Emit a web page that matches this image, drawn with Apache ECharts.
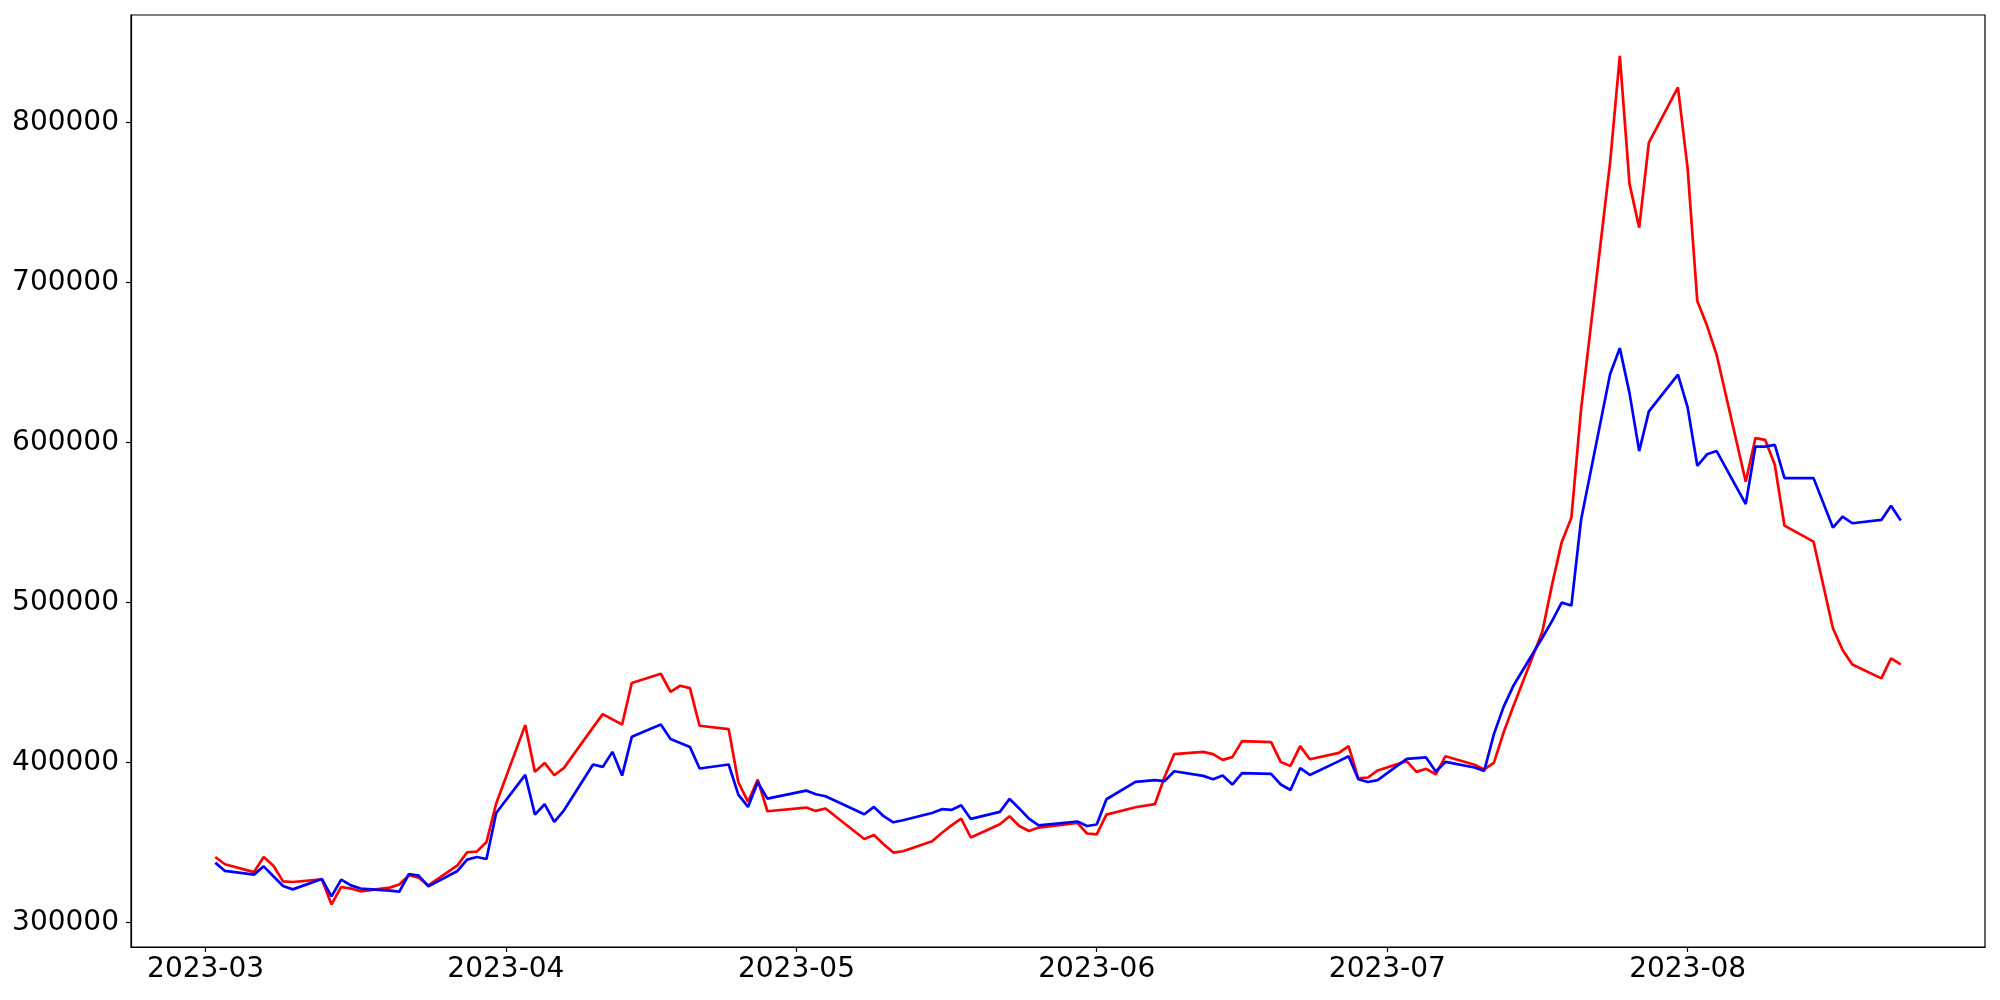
<!DOCTYPE html>
<html>
<head>
<meta charset="utf-8">
<script src="https://cdn.jsdelivr.net/npm/echarts@6/dist/echarts.min.js"></script>
<style>
  html, body { margin: 0; padding: 0; background: #ffffff; }
  #chart { width: 2000px; height: 1000px; }
</style>
</head>
<body>
<div id="chart"></div>
<script>
const dates = [
  '2023-03-02','2023-03-03','2023-03-06','2023-03-07','2023-03-08','2023-03-09','2023-03-10',
  '2023-03-13','2023-03-14','2023-03-15','2023-03-16','2023-03-17','2023-03-20','2023-03-21',
  '2023-03-22','2023-03-23','2023-03-24','2023-03-27','2023-03-28','2023-03-29','2023-03-30','2023-03-31',
  '2023-04-03','2023-04-04','2023-04-05','2023-04-06','2023-04-07','2023-04-10','2023-04-11',
  '2023-04-12','2023-04-13','2023-04-14','2023-04-17','2023-04-18','2023-04-19','2023-04-20',
  '2023-04-21','2023-04-24','2023-04-25','2023-04-26','2023-04-27','2023-04-28',
  '2023-05-02','2023-05-03','2023-05-04','2023-05-08','2023-05-09','2023-05-10','2023-05-11',
  '2023-05-12','2023-05-15','2023-05-16','2023-05-17','2023-05-18','2023-05-19','2023-05-22',
  '2023-05-23','2023-05-24','2023-05-25','2023-05-26','2023-05-30','2023-05-31',
  '2023-06-01','2023-06-02','2023-06-05','2023-06-07','2023-06-08','2023-06-09','2023-06-12',
  '2023-06-13','2023-06-14','2023-06-15','2023-06-16','2023-06-19','2023-06-20','2023-06-21',
  '2023-06-22','2023-06-23','2023-06-26','2023-06-27','2023-06-28','2023-06-29','2023-06-30',
  '2023-07-03','2023-07-04','2023-07-05','2023-07-06','2023-07-07','2023-07-10','2023-07-11',
  '2023-07-12','2023-07-13','2023-07-14','2023-07-17','2023-07-18','2023-07-19','2023-07-20',
  '2023-07-21','2023-07-24','2023-07-25','2023-07-26','2023-07-27','2023-07-28','2023-07-31',
  '2023-08-01','2023-08-02','2023-08-03','2023-08-04','2023-08-07','2023-08-08','2023-08-09',
  '2023-08-10','2023-08-11','2023-08-14','2023-08-16','2023-08-17','2023-08-18','2023-08-21',
  '2023-08-22','2023-08-23'
];

const redValues = [
  341000, 336500, 331600, 341000, 335600, 325800, 325400,
  327100, 311400, 322300, 321300, 319600, 321900, 323800,
  329600, 328100, 323300, 335800, 344000, 344400, 350400, 374400,
  423400, 394200, 399800, 392100, 396700, 422000, 430300,
  427000, 423800, 449700, 455500, 444200, 448000, 446500,
  423000, 420900, 387700, 375400, 389400, 369600,
  371900, 369800, 371300, 352300, 354800, 349000, 343800,
  344600, 350800, 356000, 360800, 365000, 353200, 361500,
  366500, 360400, 357300, 359400, 362300, 355700,
  355200, 367500, 372100, 374000, 391000, 405300, 406700,
  405300, 401700, 403400, 413400, 412800, 400300, 397900,
  410300, 402100, 406100, 410300, 390200, 390700, 395100,
  400900, 394200, 396100, 392700, 404000, 398600, 395700,
  399800, 418800, 435000, 481700, 511000, 537700, 553000,
  620600, 775000, 841500, 761500, 734200, 787300, 821800,
  771200, 688300, 673000, 654600, 575400, 602700, 601600,
  586000, 548000, 538000, 483900, 470300, 461300, 452600,
  465100, 461300
];

const blueValues = [
  337500, 332300, 330000, 335200, 329000, 322900, 320800,
  327300, 316400, 326900, 323300, 321300, 320000, 319400,
  330400, 329400, 322700, 332300, 339400, 341000, 339800, 368500,
  392300, 367500, 374000, 362900, 370200, 398800, 397300,
  406700, 391900, 416100, 423800, 414800, 412300, 409800,
  396300, 398800, 380000, 372300, 387700, 377500,
  382500, 380200, 379000, 367700, 372300, 366500, 362700,
  364000, 368500, 370900, 370400, 373400, 364800, 369200,
  377300, 371300, 365000, 360800, 363200, 360400,
  361300, 377100, 387900, 389000, 388400, 394600, 391700,
  389600, 391900, 386300, 393400, 392900, 386300, 382900,
  396500, 392300, 400900, 404000, 389600, 387900, 389000,
  402300, 402800, 403200, 394400, 400400, 396900, 394800,
  417800, 434800, 447800, 478000, 488400, 499900, 498100,
  551700, 642800, 658900, 630800, 594600, 619400, 642300,
  621900, 585400, 592600, 594600, 561500, 597400, 597400,
  598500, 577700, 577700, 546800, 553700, 549500, 551600,
  560500, 551200
];

const yTicks = [300000, 400000, 500000, 600000, 700000, 800000];
const xTickLabels = ['2023-03', '2023-04', '2023-05', '2023-06', '2023-07', '2023-08'];

function localTime(s) { return new Date(s).getTime(); }
const xTickValues = xTickLabels.map(s => localTime(s + '-01T00:00:00'));
const redData = dates.map((d, i) => [localTime(d + 'T00:00:00'), redValues[i]]);
const blueData = dates.map((d, i) => [localTime(d + 'T00:00:00'), blueValues[i]]);

const chart = echarts.init(document.getElementById('chart'), null, { renderer: 'canvas' });
const font = 'DejaVu Sans';
chart.setOption({
  backgroundColor: '#ffffff',
  animation: false,
  grid: {
    left: 131, right: 15, top: 15, bottom: 53,
    show: true, borderColor: '#000000', borderWidth: 1.2, backgroundColor: 'transparent'
  },
  xAxis: {
    type: 'value',
    min: new Date(2023, 1, 21, 7, 12).getTime(),
    max: new Date(2023, 7, 31, 16, 48).getTime(),
    splitLine: { show: false },
    axisLine: { show: true, lineStyle: { color: '#000000', width: 1.2 } },
    axisTick: { show: true, length: 5, lineStyle: { color: '#000000', width: 1.2 }, customValues: xTickValues },
    axisLabel: {
      customValues: xTickValues,
      color: '#000000', fontFamily: font, fontSize: 28, margin: 9,
      formatter: function (v) {
        const idx = xTickValues.indexOf(v);
        return idx >= 0 ? xTickLabels[idx] : '';
      }
    }
  },
  yAxis: {
    type: 'value',
    min: 284800,
    max: 867000,
    splitLine: { show: false },
    axisLine: { show: true, lineStyle: { color: '#000000', width: 1.2 } },
    axisTick: { show: true, length: 5, lineStyle: { color: '#000000', width: 1.2 }, customValues: yTicks },
    axisLabel: {
      customValues: yTicks,
      color: '#000000', fontFamily: font, fontSize: 28, margin: 12,
      formatter: function (v) { return String(v); }
    }
  },
  series: [
    {
      name: 'red', type: 'line', data: redData, showSymbol: false, symbol: 'none',
      lineStyle: { color: '#ff0000', width: 2.7 }, itemStyle: { color: '#ff0000' }
    },
    {
      name: 'blue', type: 'line', data: blueData, showSymbol: false, symbol: 'none',
      lineStyle: { color: '#0000ff', width: 2.7 }, itemStyle: { color: '#0000ff' }
    }
  ]
});
</script>
</body>
</html>
